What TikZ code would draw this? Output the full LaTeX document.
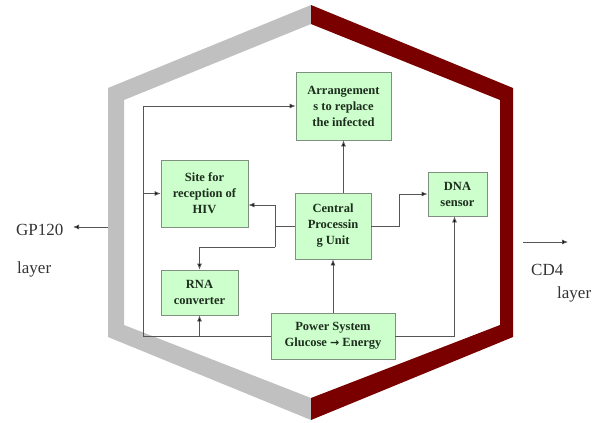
\documentclass[tikz,border=0pt]{standalone}
\usepackage{fontspec}
\setmainfont{Liberation Serif}
\newfontfamily\dejavu{DejaVu Sans}
\usetikzlibrary{arrows.meta,calc}
\definecolor{hexgray}{HTML}{C0C0C0}
\definecolor{hexred}{HTML}{7A0000}
\definecolor{boxfill}{HTML}{CCFFCC}
\definecolor{boxline}{HTML}{7F907F}
\definecolor{wire}{HTML}{555555}
\definecolor{boxtext}{HTML}{1E2E1E}
\tikzset{
  blk/.style={draw=boxline, fill=boxfill, line width=0.8pt, align=center,
    inner sep=1pt, text=boxtext, font=\fontsize{12.5}{16}\selectfont\bfseries},
  wirearrow/.style={draw=wire, line width=0.8pt, -{Latex[length=6pt,width=5pt,fill=black]}},
  wireline/.style={draw=wire, line width=0.8pt},
  lbl/.style={font=\fontsize{17}{20}\selectfont, text=black!80, inner sep=0pt, anchor=base west}
}
\begin{document}
\begin{tikzpicture}[x=1pt,y=-1pt]
\useasboundingbox (0,0) rectangle (600,423);
% hexagon halves
\fill[hexgray] (311,5) -- (108,88) -- (108,337) -- (311,420) -- (311,398) -- (124,325) -- (124,100) -- (311,24) -- cycle;
\fill[hexred] (311,5) -- (513,88) -- (513,337) -- (311,420) -- (311,398) -- (500,325) -- (500,100) -- (311,24) -- cycle;

% boxes
\node[blk, minimum width=95pt, minimum height=68pt] (arr) at (343.5,106) {Arrangement\\s to replace\\the infected};
\node[blk, minimum width=87pt, minimum height=67pt] (site) at (204.5,193.5) {Site for\\reception of\\HIV};
\node[blk, minimum width=76pt, minimum height=66pt] (cpu) at (333,226) {Central\\Processin\\g Unit};
\node[blk, minimum width=59pt, minimum height=44pt] (dna) at (457.5,194) {DNA\\sensor};
\node[blk, minimum width=77pt, minimum height=45pt] (rna) at (199.5,292.5) {RNA\\converter};
\node[blk, minimum width=124pt, minimum height=46pt] (pow) at (333,336) {Power System\\Glucose {\dejavu\bfseries\fontsize{11}{15}\selectfont →} Energy};

% junction coordinates
\coordinate (jl) at (143,336);
\coordinate (jc) at (275,226);
\coordinate (jr) at (275,247);
\coordinate (jd) at (399,226);

% connectors
\draw[wirearrow] (pow.north) -- (cpu.south);
\draw[wirearrow] (cpu.north -| arr.south) -- (arr.south);
\draw[wirearrow] (cpu.east) -- (jd) |- (dna.west);
\draw[wireline] (cpu.west) -- (jc);
\draw[wirearrow] (jc) |- ([yshift=-11.5pt]site.east);
\draw[wireline] (jc) -- (jr);
\draw[wirearrow] (jr) -| (rna.north);
\draw[wireline] (pow.west) -- (jl);
\draw[wirearrow] (jl) |- (arr.west);
\draw[wirearrow] (jl |- site.west) -- (site.west);
\draw[wirearrow] (rna.south |- jl) -- (rna.south);
\draw[wirearrow] (pow.east) -| ([xshift=-3pt]dna.south);

% outside labels
\coordinate (gpstart) at (108,227);
\coordinate (gpend) at (73,227);
\draw[wirearrow] (gpstart) -- (gpend);
\node[lbl] (gp) at (16,235) {GP120};
\node[lbl] (gpl) at (17,273) {layer};
\coordinate (cdstart) at (523,242);
\coordinate (cdend) at (568,242);
\draw[wirearrow] (cdstart) -- (cdend);
\node[lbl] (cd) at (531,275) {CD4};
\node[lbl] (cdl) at (557,298) {layer};
\end{tikzpicture}
\end{document}
